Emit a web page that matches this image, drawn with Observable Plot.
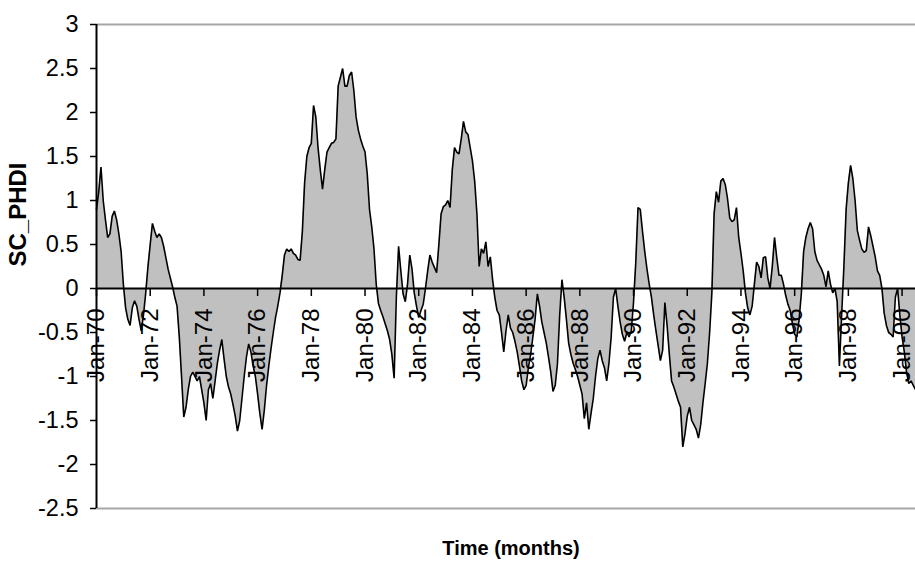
<!DOCTYPE html>
<html>
<head>
<meta charset="utf-8">
<script src="https://cdn.jsdelivr.net/npm/d3@7"></script>
<script src="https://cdn.jsdelivr.net/npm/@observablehq/plot@0.6"></script>
<style>
  html, body { margin: 0; padding: 0; background: #ffffff; }
  #chart { width: 915px; height: 565px; overflow: hidden; }
</style>
</head>
<body>
<div id="chart"></div>
<script>
// ---- Data ----
const startYear = 1970;       // first month: Jan-70
const yTitle = "SC_PHDI";
const xTitle = "Time (months)";

const phdi1970s = [
  0.9, 1.1, 1.38, 1.0, 0.78, 0.58, 0.62, 0.82, 0.88, 0.78, 0.62, 0.42,          // 1970
  0.05, -0.22, -0.35, -0.42, -0.22, -0.14, -0.2, -0.35, -0.48, -0.3, -0.05, 0.25, // 1971
  0.5, 0.74, 0.65, 0.58, 0.62, 0.58, 0.48, 0.35, 0.22, 0.12, 0.02, -0.1,      // 1972
  -0.2, -0.55, -1.0, -1.46, -1.35, -1.15, -1.0, -0.95, -1.0, -1.05, -1.0, -1.15, // 1973
  -1.3, -1.5, -1.15, -1.08, -1.25, -1.05, -0.85, -0.7, -0.58, -0.8, -1.0, -1.12, // 1974
  -1.2, -1.32, -1.45, -1.62, -1.5, -1.25, -1.0, -0.78, -0.63, -0.72, -0.88, -1.0, // 1975
  -1.2, -1.42, -1.6, -1.38, -1.1, -0.88, -0.68, -0.5, -0.33, -0.2, -0.05, 0.15, // 1976
  0.38, 0.45, 0.42, 0.45, 0.4, 0.38, 0.33, 0.32, 0.65, 1.2, 1.5, 1.6,         // 1977
  1.65, 2.08, 1.95, 1.6, 1.35, 1.13, 1.35, 1.55, 1.6, 1.65, 1.66, 1.7,        // 1978
  2.3, 2.4, 2.5, 2.3, 2.3, 2.42, 2.46, 2.25, 1.95, 1.8, 1.7, 1.62             // 1979
];
const phdi1980s = [
  1.55, 1.3, 0.9, 0.7, 0.45, 0.05, -0.17, -0.25, -0.32, -0.4, -0.48, -0.58,   // 1980
  -0.75, -1.02, -0.1, 0.48, 0.2, -0.06, -0.15, 0.05, 0.38, 0.22, -0.05, -0.2, // 1981
  -0.33, -0.25, -0.18, 0.0, 0.2, 0.38, 0.3, 0.24, 0.18, 0.5, 0.85, 0.93,      // 1982
  0.95, 1.0, 0.92, 1.35, 1.6, 1.55, 1.53, 1.7, 1.9, 1.78, 1.75, 1.6,          // 1983
  1.45, 1.22, 0.85, 0.25, 0.45, 0.4, 0.53, 0.25, 0.36, 0.1, -0.1, -0.25,      // 1984
  -0.3, -0.5, -0.72, -0.48, -0.3, -0.45, -0.5, -0.6, -0.72, -0.88, -1.05, -1.15, // 1985
  -1.1, -0.9, -0.75, -0.55, -0.35, -0.06, -0.2, -0.38, -0.5, -0.62, -0.78, -0.95, // 1986
  -1.17, -1.1, -0.85, -0.3, 0.1, -0.1, -0.35, -0.62, -0.75, -0.85, -0.92, -1.0,  // 1987
  -1.1, -1.2, -1.48, -1.3, -1.6, -1.42, -1.25, -1.0, -0.8, -0.7, -0.82, -0.9,   // 1988
  -1.05, -0.85, -0.55, -0.1, 0.0, -0.2, -0.38, -0.52, -0.6, -0.5, -0.55, -0.48  // 1989
];
const phdi1990s = [
  -0.15, 0.3, 0.92, 0.9, 0.65, 0.42, 0.22, 0.05, -0.1, -0.3, -0.48, -0.65,    // 1990
  -0.82, -0.7, -0.16, -0.42, -0.75, -1.05, -1.12, -1.2, -1.28, -1.35, -1.8, -1.65, // 1991
  -1.45, -1.35, -1.5, -1.55, -1.6, -1.7, -1.55, -1.3, -1.08, -0.85, -0.5, -0.05, // 1992
  0.85, 1.1, 0.98, 1.22, 1.25, 1.18, 1.02, 0.8, 0.76, 0.78, 0.92, 0.58,       // 1993
  0.4, 0.2, -0.05, -0.22, -0.3, -0.2, 0.05, 0.3, 0.25, 0.12, 0.35, 0.36,      // 1994
  0.12, 0.0, 0.25, 0.58, 0.35, 0.15, 0.15, 0.05, -0.08, -0.18, -0.25, -0.4,   // 1995
  -0.52, -0.55, -0.35, -0.05, 0.42, 0.58, 0.68, 0.75, 0.68, 0.42, 0.32, 0.27, // 1996
  0.22, 0.15, 0.02, 0.2, 0.05, -0.05, 0.0, -0.15, -0.88, -0.3, 0.25, 0.9,     // 1997
  1.2, 1.4, 1.25, 1.0, 0.66, 0.55, 0.45, 0.41, 0.43, 0.7, 0.6, 0.48,          // 1998
  0.36, 0.2, 0.15, 0.0, -0.28, -0.42, -0.5, -0.52, -0.55, -0.1, 0.0, -0.3     // 1999
];
const phdi2000s = [-0.55, -0.72, -0.95, -1.08, -1.05, -1.1, -1.15];          // 2000

const xTickLabels = ["Jan-70", "Jan-72", "Jan-74", "Jan-76", "Jan-78", "Jan-80", "Jan-82", "Jan-84",
                     "Jan-86", "Jan-88", "Jan-90", "Jan-92", "Jan-94", "Jan-96", "Jan-98", "Jan-00"];
const xTickEvery = 24;        // months between labelled ticks
const yTicks = [-2.5, -2, -1.5, -1, -0.5, 0, 0.5, 1, 1.5, 2, 2.5, 3];

// ---- Build table ----
const values = [...phdi1970s, ...phdi1980s, ...phdi1990s, ...phdi2000s];
const data = values.map((v, i) => ({i, v}));
const xTickPos = xTickLabels.map((_, k) => k * xTickEvery);
const font = "'Liberation Sans', Arial, Helvetica, sans-serif";

const chart = Plot.plot({
  width: 915,
  height: 565,
  marginLeft: 96,
  marginRight: 0,
  marginTop: 24,
  marginBottom: 57,
  style: {fontFamily: font, background: "#ffffff", color: "#000000", overflow: "visible"},
  x: {type: "linear", domain: [0, values.length - 1], axis: null},
  y: {domain: [yTicks[0], yTicks[yTicks.length - 1]], axis: null},
  marks: [
    // plot-area border lines (top and bottom)
    Plot.ruleY([yTicks[yTicks.length - 1], yTicks[0]], {stroke: "#a6a6a6", strokeWidth: 2}),
    // filled area
    Plot.areaY(data, {x: "i", y: "v", fill: "#c0c0c0"}),
    Plot.lineY(data, {x: "i", y: "v", stroke: "#000000", strokeWidth: 1.6, strokeLinejoin: "miter"}),
    // zero axis line
    Plot.ruleY([0], {stroke: "#000000", strokeWidth: 2}),
    // x tick marks hanging below the zero line
    Plot.ruleX(xTickPos, {x: d => d, y1: 0, y2: 0, insetBottom: -8, stroke: "#000000", strokeWidth: 1.5}),
    // x tick labels (rotated)
    Plot.text(xTickPos, {
      x: d => d, y: 0, text: (d, k) => xTickLabels[k],
      rotate: -90, textAnchor: "end", dy: 20,
      fontSize: 24, fill: "#000000", fontFamily: font
    }),
    // y axis
    Plot.ruleX([0], {stroke: "#000000", strokeWidth: 2}),
    Plot.axisY(yTicks, {
      tickSize: 6, tickPadding: 12, tickFormat: d => String(d),
      fontSize: 23.5, label: null, stroke: "#000000", strokeWidth: 1.5,
      fontFamily: "'Liberation Sans Narrow', " + font
    }),
    // axis titles
    Plot.text([yTitle], {
      frameAnchor: "left", dx: -78, rotate: -90, text: d => d,
      fontSize: 24, fontWeight: "bold", fill: "#000000", fontFamily: font
    }),
    Plot.text([xTitle], {
      frameAnchor: "bottom", dy: 46, dx: 5, text: d => d,
      fontSize: 20, fontWeight: "bold", fill: "#000000", fontFamily: font
    })
  ]
});
document.getElementById("chart").appendChild(chart);
</script>
</body>
</html>
